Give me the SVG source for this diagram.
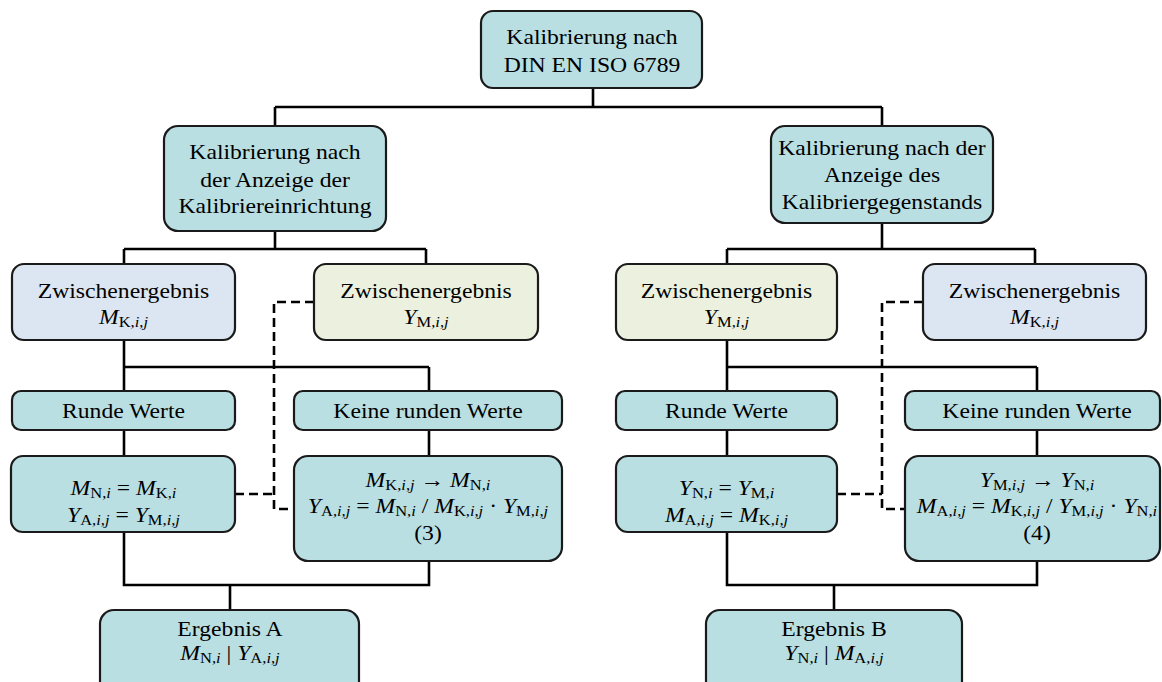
<svg xmlns="http://www.w3.org/2000/svg" width="1162" height="682" viewBox="0 0 1162 682">
<style>
.box{stroke:#1a1a1a;stroke-width:2.2}
.teal{fill:#B9DFE3}
.blue{fill:#DCE6F2}
.green{fill:#EBF1DE}
.ln{fill:none;stroke:#000;stroke-width:2.6}
.dash{fill:none;stroke:#000;stroke-width:2.6;stroke-dasharray:9 5}
.t{font-family:"Liberation Serif","Times New Roman",serif;font-size:21.5px;fill:#000;text-anchor:middle}
.v{font-style:italic}
.s{font-size:15px}
</style>
<rect width="1162" height="682" fill="#fff"/>
<g id="connectors">
<path class="ln" d="M593,88V107M275,107H882M275,107V126M882,107V126"/>
<path class="ln" d="M275,231V249M124,249H426M124,249V264M426,249V264"/>
<path class="ln" d="M124,340V367H429M124,367V391M429,367V391M124,430V456M429,430V456"/>
<path class="ln" d="M124,532V585H429V561M230,585V610"/>
<path class="ln" d="M882,223V249M727,249H1035M727,249V264M1035,249V264"/>
<path class="ln" d="M727,340V367H1037M727,367V391M1037,367V391M727,430V456M1037,430V456"/>
<path class="ln" d="M727,532V585H1037V561M834,585V610"/>
<path class="dash" d="M314,302H274V509H294M235,494H274"/>
<path class="dash" d="M923,302H882V509H905M837,494H882"/>
</g>
<g id="top">
<rect class="box teal" x="481" y="11" width="221" height="77" rx="12"/>
<text class="t" transform="translate(592 44) scale(1.1 1)">Kalibrierung nach</text>
<text class="t" transform="translate(592 72) scale(1.1 1)">DIN EN ISO 6789</text>
</g>
<g id="midL">
<rect class="box teal" x="164" y="126" width="222" height="105" rx="14"/>
<text class="t" transform="translate(275 159) scale(1.1 1)">Kalibrierung nach</text>
<text class="t" transform="translate(275 186.5) scale(1.1 1)">der Anzeige der</text>
<text class="t" transform="translate(275 213) scale(1.1 1)">Kalibriereinrichtung</text>
</g>
<g id="midR">
<rect class="box teal" x="771" y="126" width="222" height="97" rx="14"/>
<text class="t" transform="translate(882 154.5) scale(1.1 1)">Kalibrierung nach der</text>
<text class="t" transform="translate(882 181.5) scale(1.1 1)">Anzeige des</text>
<text class="t" transform="translate(882 208.5) scale(1.1 1)">Kalibriergegenstands</text>
</g>
<g id="zwL1">
<rect class="box blue" x="12" y="264" width="223" height="76" rx="12"/>
<text class="t" transform="translate(123.5 297.5) scale(1.1 1)">Zwischenergebnis</text>
<text class="t" transform="translate(123.5 323.5) scale(1.1 1)"><tspan class="v">M</tspan><tspan class="s" dy="3">K,<tspan class="v">i</tspan>,<tspan class="v">j</tspan></tspan></text>
</g>
<g id="zwL2">
<rect class="box green" x="314" y="264" width="224" height="76" rx="12"/>
<text class="t" transform="translate(426 297.5) scale(1.1 1)">Zwischenergebnis</text>
<text class="t" transform="translate(426 323.5) scale(1.1 1)"><tspan class="v">Y</tspan><tspan class="s" dy="3">M,<tspan class="v">i</tspan>,<tspan class="v">j</tspan></tspan></text>
</g>
<g id="zwR1">
<rect class="box green" x="616" y="264" width="221" height="76" rx="12"/>
<text class="t" transform="translate(726.5 297.5) scale(1.1 1)">Zwischenergebnis</text>
<text class="t" transform="translate(726.5 323.5) scale(1.1 1)"><tspan class="v">Y</tspan><tspan class="s" dy="3">M,<tspan class="v">i</tspan>,<tspan class="v">j</tspan></tspan></text>
</g>
<g id="zwR2">
<rect class="box blue" x="923" y="264" width="223" height="76" rx="12"/>
<text class="t" transform="translate(1034.5 297.5) scale(1.1 1)">Zwischenergebnis</text>
<text class="t" transform="translate(1034.5 323.5) scale(1.1 1)"><tspan class="v">M</tspan><tspan class="s" dy="3">K,<tspan class="v">i</tspan>,<tspan class="v">j</tspan></tspan></text>
</g>
<g id="rundeL">
<rect class="box teal" x="12" y="391" width="223" height="39" rx="9"/>
<text class="t" transform="translate(123.5 418) scale(1.1 1)">Runde Werte</text>
</g>
<g id="keineL">
<rect class="box teal" x="294" y="391" width="268" height="39" rx="9"/>
<text class="t" transform="translate(428 418) scale(1.1 1)">Keine runden Werte</text>
</g>
<g id="rundeR">
<rect class="box teal" x="616" y="391" width="221" height="39" rx="9"/>
<text class="t" transform="translate(726.5 418) scale(1.1 1)">Runde Werte</text>
</g>
<g id="keineR">
<rect class="box teal" x="905" y="391" width="255" height="39" rx="9"/>
<text class="t" transform="translate(1037 418) scale(1.1 1)">Keine runden Werte</text>
</g>
<g id="formL">
<rect class="box teal" x="11" y="456" width="224" height="76" rx="12"/>
<text class="t" transform="translate(123.5 495) scale(1.1 1)"><tspan class="v">M</tspan><tspan class="s" dy="3">N,<tspan class="v">i</tspan></tspan><tspan dy="-3"> = </tspan><tspan class="v">M</tspan><tspan class="s" dy="3">K,<tspan class="v">i</tspan></tspan></text>
<text class="t" transform="translate(123.5 522) scale(1.1 1)"><tspan class="v">Y</tspan><tspan class="s" dy="3">A,<tspan class="v">i</tspan>,<tspan class="v">j</tspan></tspan><tspan dy="-3"> = </tspan><tspan class="v">Y</tspan><tspan class="s" dy="3">M,<tspan class="v">i</tspan>,<tspan class="v">j</tspan></tspan></text>
</g>
<g id="formLR">
<rect class="box teal" x="294" y="456" width="268" height="105" rx="14"/>
<text class="t" transform="translate(428 486.5) scale(1.1 1)"><tspan class="v">M</tspan><tspan class="s" dy="3">K,<tspan class="v">i</tspan>,<tspan class="v">j</tspan></tspan><tspan dy="-3"> → </tspan><tspan class="v">M</tspan><tspan class="s" dy="3">N,<tspan class="v">i</tspan></tspan></text>
<text class="t" transform="translate(428 513) scale(1.1 1)"><tspan class="v">Y</tspan><tspan class="s" dy="3">A,<tspan class="v">i</tspan>,<tspan class="v">j</tspan></tspan><tspan dy="-3"> = </tspan><tspan class="v">M</tspan><tspan class="s" dy="3">N,<tspan class="v">i</tspan></tspan><tspan dy="-3"> / </tspan><tspan class="v">M</tspan><tspan class="s" dy="3">K,<tspan class="v">i</tspan>,<tspan class="v">j</tspan></tspan><tspan dy="-3"> · </tspan><tspan class="v">Y</tspan><tspan class="s" dy="3">M,<tspan class="v">i</tspan>,<tspan class="v">j</tspan></tspan></text>
<text class="t" transform="translate(428 540) scale(1.1 1)">(3)</text>
</g>
<g id="formR">
<rect class="box teal" x="616" y="456" width="221" height="76" rx="12"/>
<text class="t" transform="translate(726.5 495) scale(1.1 1)"><tspan class="v">Y</tspan><tspan class="s" dy="3">N,<tspan class="v">i</tspan></tspan><tspan dy="-3"> = </tspan><tspan class="v">Y</tspan><tspan class="s" dy="3">M,<tspan class="v">i</tspan></tspan></text>
<text class="t" transform="translate(726.5 522) scale(1.1 1)"><tspan class="v">M</tspan><tspan class="s" dy="3">A,<tspan class="v">i</tspan>,<tspan class="v">j</tspan></tspan><tspan dy="-3"> = </tspan><tspan class="v">M</tspan><tspan class="s" dy="3">K,<tspan class="v">i</tspan>,<tspan class="v">j</tspan></tspan></text>
</g>
<g id="formRR">
<rect class="box teal" x="905" y="456" width="255" height="105" rx="14"/>
<text class="t" transform="translate(1037 486.5) scale(1.1 1)"><tspan class="v">Y</tspan><tspan class="s" dy="3">M,<tspan class="v">i</tspan>,<tspan class="v">j</tspan></tspan><tspan dy="-3"> → </tspan><tspan class="v">Y</tspan><tspan class="s" dy="3">N,<tspan class="v">i</tspan></tspan></text>
<text class="t" transform="translate(1037 513) scale(1.1 1)"><tspan class="v">M</tspan><tspan class="s" dy="3">A,<tspan class="v">i</tspan>,<tspan class="v">j</tspan></tspan><tspan dy="-3"> = </tspan><tspan class="v">M</tspan><tspan class="s" dy="3">K,<tspan class="v">i</tspan>,<tspan class="v">j</tspan></tspan><tspan dy="-3"> / </tspan><tspan class="v">Y</tspan><tspan class="s" dy="3">M,<tspan class="v">i</tspan>,<tspan class="v">j</tspan></tspan><tspan dy="-3"> · </tspan><tspan class="v">Y</tspan><tspan class="s" dy="3">N,<tspan class="v">i</tspan></tspan></text>
<text class="t" transform="translate(1037 540) scale(1.1 1)">(4)</text>
</g>
<g id="resultA">
<rect class="box teal" x="100" y="610" width="259" height="90" rx="14"/>
<text class="t" transform="translate(230 636) scale(1.1 1)">Ergebnis A</text>
<text class="t" transform="translate(230 660) scale(1.1 1)"><tspan class="v">M</tspan><tspan class="s" dy="3">N,<tspan class="v">i</tspan></tspan><tspan dy="-3"> | </tspan><tspan class="v">Y</tspan><tspan class="s" dy="3">A,<tspan class="v">i</tspan>,<tspan class="v">j</tspan></tspan></text>
</g>
<g id="resultB">
<rect class="box teal" x="706" y="610" width="256" height="90" rx="14"/>
<text class="t" transform="translate(834 636) scale(1.1 1)">Ergebnis B</text>
<text class="t" transform="translate(834 660) scale(1.1 1)"><tspan class="v">Y</tspan><tspan class="s" dy="3">N,<tspan class="v">i</tspan></tspan><tspan dy="-3"> | </tspan><tspan class="v">M</tspan><tspan class="s" dy="3">A,<tspan class="v">i</tspan>,<tspan class="v">j</tspan></tspan></text>
</g>
</svg>
